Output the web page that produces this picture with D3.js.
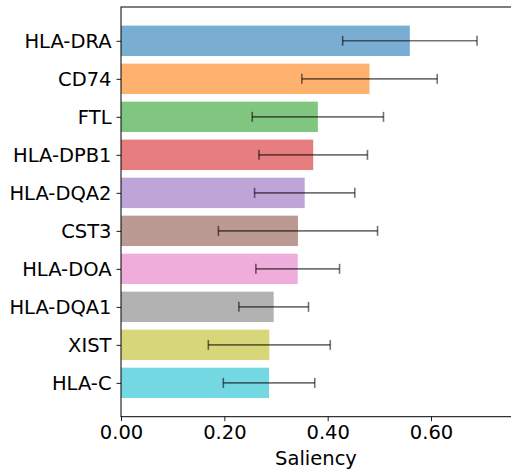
<!DOCTYPE html>
<html><head><meta charset="utf-8">
<script src="https://cdn.jsdelivr.net/npm/d3@7"></script>
<style>body{margin:0;background:#fff;} text{font-family:"DejaVu Sans",sans-serif;}</style>
</head><body>
<svg id="c" width="511" height="474"></svg>
<script>
const genes = ["HLA-DRA","CD74","FTL","HLA-DPB1","HLA-DQA2","CST3","HLA-DOA","HLA-DQA1","XIST","HLA-C"];
const saliency = [0.559,0.481,0.381,0.372,0.3555,0.3425,0.342,0.2955,0.287,0.2865];
const errors = [0.130,0.131,0.127,0.105,0.097,0.154,0.081,0.0674,0.118,0.0885];
const colors = ["#1f77b4","#ff7f0e","#2ca02c","#d62728","#9467bd","#8c564b","#e377c2","#7f7f7f","#bcbd22","#17becf"];
const xTicks = [0,0.2,0.4,0.6];

(function(){
const svg = d3.select("#c");
const mLeft = 121, mTop = 7, mBottom = 416.7;
const xMax = 0.76;
const fs = "19.5px";
const x = d3.scaleLinear().domain([0, xMax]).range([mLeft, mLeft + xMax*516.7]);
const y = d3.scaleLinear().domain([-0.89, 9.89]).range([mTop, mBottom]);
const bh = y(0.4) - y(0);

const g = svg.append("g");
g.selectAll("rect.bar").data(genes).join("rect")
  .attr("x", x(0)).attr("y", (d,i)=>y(i-0.4))
  .attr("width", (d,i)=>x(saliency[i])-x(0)).attr("height", 2*bh)
  .attr("fill", (d,i)=>colors[i]).attr("fill-opacity", 0.6);

const eb = g.selectAll("g.err").data(genes).join("g").attr("stroke","#000").attr("stroke-opacity",0.55).attr("stroke-width",1.6);
eb.append("line").attr("x1",(d,i)=>x(saliency[i]-errors[i])).attr("x2",(d,i)=>x(saliency[i]+errors[i]))
  .attr("y1",(d,i)=>y(i)).attr("y2",(d,i)=>y(i));
eb.append("line").attr("x1",(d,i)=>x(saliency[i]-errors[i])).attr("x2",(d,i)=>x(saliency[i]-errors[i]))
  .attr("y1",(d,i)=>y(i)-5).attr("y2",(d,i)=>y(i)+5);
eb.append("line").attr("x1",(d,i)=>x(saliency[i]+errors[i])).attr("x2",(d,i)=>x(saliency[i]+errors[i]))
  .attr("y1",(d,i)=>y(i)-5).attr("y2",(d,i)=>y(i)+5);

const xa = svg.append("g").attr("transform",`translate(0,${mBottom})`)
  .call(d3.axisBottom(x).tickValues(xTicks).tickFormat(d3.format(".2f")).tickSize(4.5).tickPadding(4));
xa.select(".domain").remove();
xa.selectAll("text").attr("font-size",fs).attr("fill","#000").style("font-family","DejaVu Sans");
xa.selectAll("line").attr("stroke","#000").attr("stroke-width",0.9);

const ya = svg.append("g").attr("transform",`translate(${mLeft},0)`)
  .call(d3.axisLeft(y).tickValues(d3.range(genes.length)).tickFormat(i=>genes[i]).tickSize(4.5).tickPadding(5));
ya.select(".domain").remove();
ya.selectAll("text").attr("font-size",fs).attr("fill","#000").style("font-family","DejaVu Sans");
ya.selectAll("line").attr("stroke","#000").attr("stroke-width",0.9);

svg.append("rect").attr("x",mLeft).attr("y",mTop).attr("width",x(xMax)-mLeft).attr("height",mBottom-mTop)
  .attr("fill","none").attr("stroke","#000").attr("stroke-width",1);

svg.append("text").attr("x",(mLeft+511)/2).attr("y",465).attr("text-anchor","middle")
  .attr("font-size",fs).text("Saliency");
})();
</script>
</body></html>
